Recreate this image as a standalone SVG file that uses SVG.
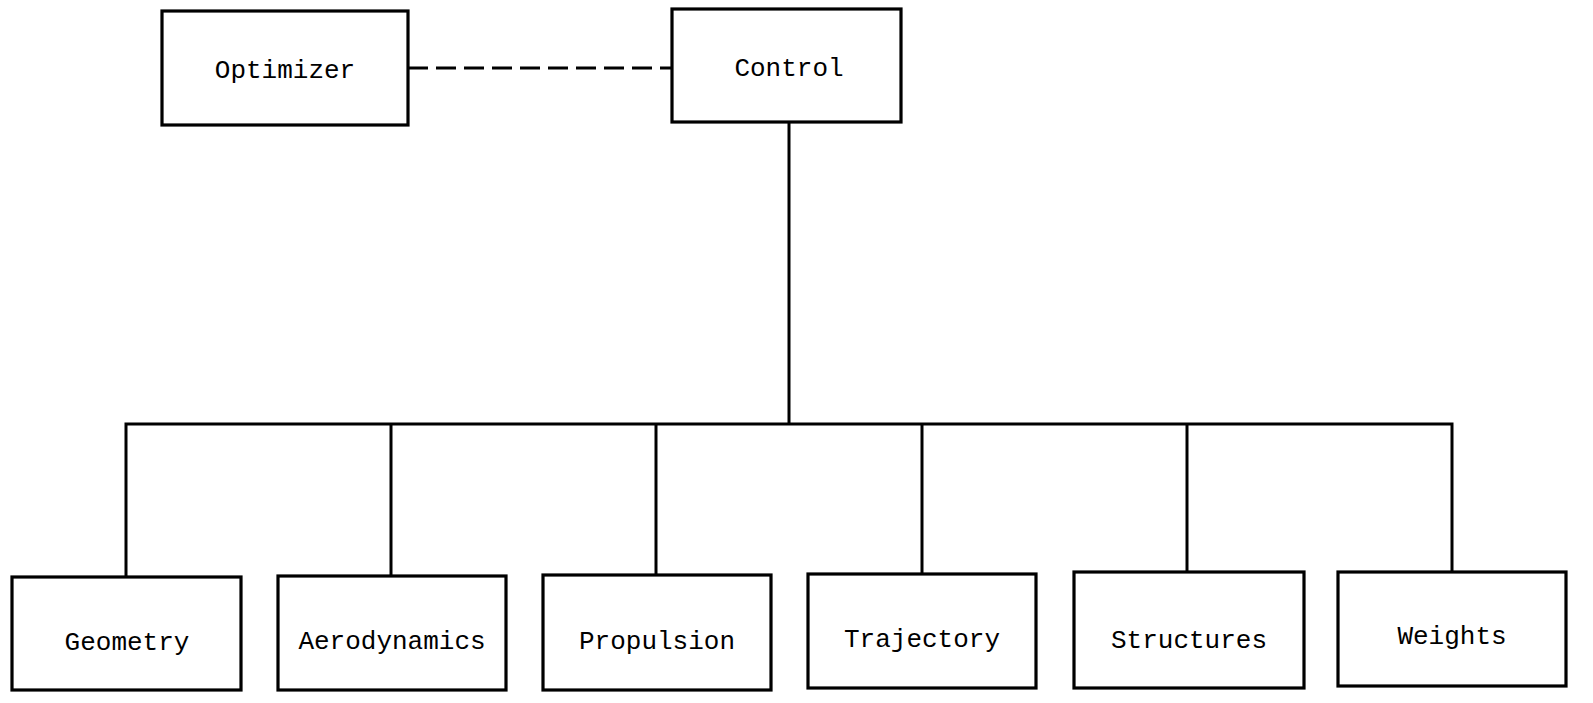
<svg xmlns="http://www.w3.org/2000/svg" width="1593" height="703" viewBox="0 0 1593 703">
<style>
.box{fill:#fff;stroke:#000;stroke-width:3.2}
.lbl{font-family:"Liberation Mono","Courier New",monospace;font-size:26px;fill:#000;text-anchor:middle}
.wire{stroke:#000;stroke-width:3;fill:none}
.dash{stroke:#000;stroke-width:3;fill:none;stroke-dasharray:20 8}
</style>
<rect width="1593" height="703" fill="#fff"/>
<g id="connectors">
<line class="dash" x1="408" y1="68" x2="672" y2="68"/>
<line class="wire" x1="789" y1="122" x2="789" y2="424"/>
<polyline class="wire" points="126,577 126,424 1452,424 1452,572"/>
<line class="wire" x1="391" y1="424" x2="391" y2="576"/>
<line class="wire" x1="656" y1="424" x2="656" y2="575"/>
<line class="wire" x1="922" y1="424" x2="922" y2="574"/>
<line class="wire" x1="1187" y1="424" x2="1187" y2="572"/>
</g>
<g id="optimizer"><rect class="box" x="162" y="11" width="246" height="114"/><text class="lbl" x="285" y="78">Optimizer</text></g>
<g id="control"><rect class="box" x="672" y="9" width="229" height="113"/><text class="lbl" x="789" y="76">Control</text></g>
<g id="geometry"><rect class="box" x="12" y="577" width="229" height="113"/><text class="lbl" x="127" y="650">Geometry</text></g>
<g id="aerodynamics"><rect class="box" x="278" y="576" width="228" height="114"/><text class="lbl" x="392" y="649">Aerodynamics</text></g>
<g id="propulsion"><rect class="box" x="543" y="575" width="228" height="115"/><text class="lbl" x="657" y="649">Propulsion</text></g>
<g id="trajectory"><rect class="box" x="808" y="574" width="228" height="114"/><text class="lbl" x="922" y="647">Trajectory</text></g>
<g id="structures"><rect class="box" x="1074" y="572" width="230" height="116"/><text class="lbl" x="1189" y="648">Structures</text></g>
<g id="weights"><rect class="box" x="1338" y="572" width="228" height="114"/><text class="lbl" x="1452" y="644">Weights</text></g>
</svg>
